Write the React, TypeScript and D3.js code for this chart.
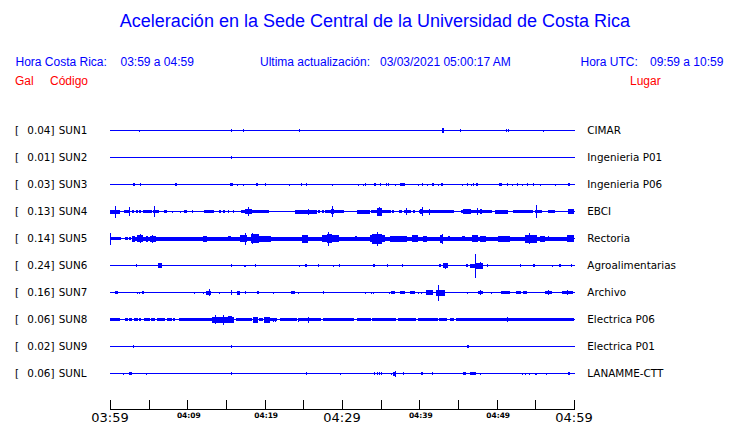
import React from "react";
import * as d3 from "d3";

// ---------- data ----------
const stations = ["SUN1", "SUN2", "SUN3", "SUN4", "SUN5", "SUN6", "SUN7", "SUN8", "SUN9", "SUNL"];
const peakGal = ["0.04", "0.01", "0.03", "0.13", "0.14", "0.24", "0.16", "0.06", "0.02", "0.06"];
const places = ["CIMAR", "Ingenieria P01", "Ingenieria P06", "EBCI", "Rectoria", "Agroalimentarias", "Archivo", "Electrica P06", "Electrica P01", "LANAMME-CTT"];

const tickMinutes = [0, 5, 10, 15, 20, 25, 30, 35, 40, 45, 50, 55, 60];
const labelMinutes = [0, 10, 20, 30, 40, 50, 60];
const tickLabels = ["03:59", "04:09", "04:19", "04:29", "04:39", "04:49", "04:59"];
const majorLabels = ["03:59", "04:29", "04:59"];

// bursts per station: [start minute, end minute, relative amplitude]
const SUN1 = [[3.8, 3.8, 1], [15.7, 15.7, 1.5], [17.2, 17.2, 1.5], [24.4, 24.4, 1.5], [42.95, 43.25, 2.5], [45.2, 45.2, 1.5], [51.2, 51.2, 1.5], [51.5, 51.5, 1.5], [56.0, 56.0, 1]];
const SUN2 = [[15.7, 15.7, 1.5]];
const SUN3 = [[3.0, 3.2, 1.3], [3.92, 3.92, 1.2], [8.4, 8.6, 1.3], [10.65, 10.65, 0.8], [15.5, 15.85, 1.3], [16.38, 16.38, 1], [17.24, 17.24, 1], [18.9, 19.2, 1.3], [20.1, 20.25, 1.3], [23.19, 23.19, 1], [24.7, 24.85, 1.2], [25.4, 25.55, 1.3], [28.66, 28.66, 1], [30.3, 30.3, 0.8], [32.1, 32.1, 1], [32.67, 32.67, 1], [33.0, 33.15, 1.2], [34.2, 34.5, 1.3], [34.9, 35.05, 1.3], [35.65, 35.8, 1.3], [36.0, 36.0, 1.2], [36.9, 36.9, 1], [37.55, 38.15, 1.3], [39.8, 39.8, 1], [40.3, 40.45, 1.2], [41.03, 41.03, 1], [41.6, 41.8, 1.2], [42.45, 42.45, 1], [42.8, 43.1, 1.3], [45.47, 45.47, 1], [46.2, 46.3, 1.2], [46.64, 46.64, 1], [46.9, 47.05, 1.2], [47.35, 47.65, 1.3], [50.35, 50.7, 1.3], [51.3, 51.45, 1.3], [51.94, 51.94, 1], [52.6, 52.75, 1.2], [53.32, 53.32, 1], [53.95, 54.1, 1.2], [54.75, 54.9, 1.2], [55.6, 55.6, 1], [57.55, 57.55, 1], [59.25, 59.55, 1.3]];
const SUN4 = [[0, 1.3, 2], [0.65, 0.65, 6], [1.8, 2.6, 1.8], [2.4, 2.4, 4.5], [2.8, 3.0, 1.2], [3.3, 3.5, 1.2], [3.8, 4.1, 1.2], [4.3, 5.4, 1.8], [5.5, 6.3, 1.7], [5.73, 5.73, 5.5], [7.0, 7.4, 1.5], [8.0, 8.0, 1], [9.0, 9.0, 1], [9.6, 10.05, 1.5], [10.6, 10.6, 1.2], [12.2, 13.5, 1.5], [14.1, 14.4, 1.2], [14.6, 14.9, 1.2], [15.2, 15.2, 1.2], [15.9, 15.9, 1.2], [16.9, 17.4, 1.3], [17.45, 18.3, 2.5], [17.8, 17.8, 4.5], [18.3, 20.5, 1.8], [23.9, 26.7, 2], [25.6, 25.6, 3], [26.9, 27.1, 1.2], [27.4, 27.6, 1.2], [27.8, 30.2, 1.7], [28.6, 29.0, 2.5], [28.66, 28.66, 5.5], [31.9, 33.6, 2], [33.8, 36.4, 1.6], [34.5, 35.1, 4], [34.8, 34.8, 4.5], [36.5, 36.8, 1.4], [37.4, 37.8, 1.2], [38.05, 38.9, 1.6], [38.3, 38.3, 3.5], [39.2, 39.5, 1.2], [39.9, 44.4, 1.8], [40.3, 40.3, 4.5], [40.1, 40.5, 2.5], [41.3, 41.3, 3], [45.4, 49.4, 1.7], [45.6, 46.6, 2.2], [47.9, 48.2, 2.5], [47.5, 47.5, 3.5], [49.8, 51.5, 2], [52.15, 54.75, 1.6], [55.0, 55.9, 1.8], [55.1, 55.1, 6.3], [56.6, 57.5, 1.2], [59.2, 60, 2.5]];
const SUN5 = [[0, 0.15, 6], [0, 1.45, 1.9], [1.9, 2.3, 1.2], [2.5, 2.8, 1.2], [2.8, 60, 2], [2.9, 3.3, 3], [3.55, 4.3, 3.5], [3.9, 3.9, 4.5], [4.7, 5.0, 3], [5.2, 6.0, 3], [5.4, 5.4, 4], [12.0, 12.5, 3], [15.3, 15.7, 2.5], [16.8, 17.7, 3.5], [17.4, 17.4, 6], [18.2, 19.2, 4.5], [18.4, 18.4, 5.5], [19.2, 20.9, 3], [24.8, 25.6, 4], [27.4, 29.6, 3.5], [28.0, 28.6, 4.5], [28.2, 28.2, 7], [31.7, 31.9, 2.5], [33.6, 35.6, 3.5], [33.9, 35.2, 5], [34.5, 34.5, 7], [36.2, 38.4, 3], [39.0, 39.8, 3.5], [40.5, 41.0, 3], [42.7, 43.1, 4], [42.9, 42.9, 5], [43.7, 44.0, 2.5], [45.5, 45.9, 2.5], [46.8, 47.6, 3.5], [47.8, 48.6, 3], [50.2, 51.7, 3], [53.7, 55.2, 4], [54.2, 54.2, 5.5], [55.6, 56.2, 3], [56.7, 56.7, 2.5], [59.1, 60, 3.5]];
const SUN6 = [[3.3, 3.3, 1.2], [6.25, 6.75, 2.5], [15.7, 15.7, 1.5], [17.3, 17.3, 1], [17.5, 17.5, 1], [18.7, 18.7, 1.2], [24.4, 24.4, 1], [25.2, 25.4, 1.5], [26.9, 26.9, 1.3], [28.8, 28.8, 1], [29.6, 29.6, 1.2], [34.0, 34.2, 1.3], [35.8, 35.8, 1.2], [37.7, 37.7, 1.2], [42.6, 42.8, 1.5], [43.0, 43.6, 2.5], [43.3, 43.3, 3], [46.0, 46.2, 1.3], [46.5, 47.2, 2], [47.25, 47.25, 12], [47.3, 48.2, 3], [47.9, 47.9, 3.5], [48.7, 48.7, 1.2], [53.0, 53.0, 1.2], [54.7, 54.9, 1.3], [57.1, 57.1, 1], [58.1, 58.3, 1.5], [59.55, 59.7, 1.3]];
const SUN7 = [[0.7, 1.1, 1.3], [3.5, 3.5, 1], [3.75, 3.75, 1], [4.2, 4.5, 1.3], [10.9, 10.9, 1], [12.0, 12.0, 1], [12.4, 13.1, 2], [12.75, 12.75, 3.5], [14.1, 14.1, 1], [15.7, 15.7, 2.5], [16.45, 16.9, 2], [17.5, 17.5, 1.3], [19.0, 19.2, 1.3], [21.1, 21.1, 1], [23.4, 23.9, 1.3], [24.3, 24.3, 1], [27.6, 27.6, 1.5], [33.0, 33.0, 1], [33.7, 33.7, 1], [34.0, 34.0, 1], [36.1, 36.1, 1], [36.4, 36.9, 1.3], [37.5, 38.2, 1.5], [38.8, 39.4, 1.5], [39.8, 39.8, 1], [40.2, 40.2, 1], [40.9, 41.8, 2.5], [42.2, 43.3, 3], [42.45, 42.45, 8], [46.2, 46.2, 1], [47.6, 48.3, 1.5], [47.8, 47.8, 2.5], [49.3, 49.3, 1], [50.6, 51.7, 1.3], [52.5, 53.1, 1.5], [53.4, 53.9, 1.3], [56.2, 57.1, 1.5], [56.7, 56.7, 2.5], [58.4, 59.8, 1.5], [59.1, 59.1, 2.5]];
const SUN8 = [[0, 1.29, 1.7], [1.94, 2.28, 1.7], [2.46, 2.8, 1.7], [3.06, 3.58, 1.7], [3.79, 4.1, 1.7], [4.44, 5.17, 1.7], [5.3, 5.82, 1.7], [6.03, 7.11, 1.7], [7.33, 7.97, 1.7], [8.19, 8.49, 1.7], [8.92, 12.28, 1.7], [12.28, 13.15, 1.7], [13.15, 15.95, 3], [13.58, 13.58, 4.5], [14.66, 14.66, 5], [15.3, 15.8, 3.5], [16.25, 18.32, 1.7], [18.5, 19.18, 3], [19.27, 19.83, 1.7], [19.96, 20.7, 3], [20.7, 21.55, 1.7], [21.1, 21.1, 2], [21.3, 21.3, 2], [21.98, 24.14, 1.7], [24.35, 27.37, 1.7], [24.35, 24.35, 2], [25.6, 25.6, 3], [27.58, 31.6, 1.7], [31.9, 33.75, 1.7], [33.92, 37.07, 1.7], [37.29, 39.66, 1.7], [39.79, 42.37, 1.7], [42.59, 43.67, 1.7], [43.97, 44.53, 1.7], [44.7, 60, 1.7], [51.4, 51.4, 2.5]];
const SUN9 = [[3.0, 3.0, 1.3], [15.7, 15.7, 1.3], [46.1, 46.3, 1.3]];
const SUNL = [[1.7, 1.7, 1], [2.45, 2.8, 1.5], [4.65, 4.65, 1], [15.7, 15.7, 1.5], [25.3, 25.3, 1.5], [29.7, 29.7, 1], [34.2, 34.2, 1.3], [34.5, 34.5, 1.3], [34.8, 34.8, 1.3], [35.0, 35.0, 1.3], [36.3, 36.3, 1], [36.6, 37.0, 2], [36.8, 36.8, 3], [37.9, 37.9, 1.3], [40.2, 40.45, 1.5], [41.7, 41.7, 1.5], [45.6, 46.0, 1.3], [46.5, 47.3, 1.5], [47.9, 47.9, 1], [53.3, 53.3, 1], [53.7, 53.7, 1], [54.2, 54.2, 1], [55.0, 55.2, 1], [56.4, 56.4, 1], [59.25, 59.45, 1.3]];

const traces = [SUN1, SUN2, SUN3, SUN4, SUN5, SUN6, SUN7, SUN8, SUN9, SUNL];

// ---------- layout ----------
const W = 740;
const H = 423;
const BLUE = "#0000ff";
const RED = "#ff0000";
const SANS = "'Liberation Sans', Arial, sans-serif";
const DEJAVU = "'DejaVu Sans', sans-serif";

export default function App() {
  const x = d3.scaleLinear().domain([0, 60]).range([110, 574]);
  const y = d3.scalePoint<string>().domain(stations).range([130, 373]);
  const amp = d3.scaleLinear().domain([0, 13.5]).range([0, 13.5]);
  const axisY = 409;

  return (
    <svg
      width={W}
      height={H}
      style={{ position: "absolute", left: 0, top: 0, background: "#fff" }}
    >
      <rect width={W} height={H} fill="#fff" />
      <text x={375} y={27} textAnchor="middle" fill={BLUE} fontFamily={SANS} fontSize={18}>
        Aceleración en la Sede Central de la Universidad de Costa Rica
      </text>

      <g fontFamily={SANS} fontSize={12} fill={BLUE}>
        <text x={15.5} y={65.5}>Hora Costa Rica:</text>
        <text x={120.5} y={65.5}>03:59 a 04:59</text>
        <text x={260} y={65.5}>Ultima actualización:</text>
        <text x={380} y={65.5}>03/03/2021 05:00:17 AM</text>
        <text x={580.5} y={65.5}>Hora UTC:</text>
        <text x={650} y={65.5}>09:59 a 10:59</text>
      </g>
      <g fontFamily={SANS} fontSize={12} fill={RED}>
        <text x={15} y={85}>Gal</text>
        <text x={50} y={85}>Código</text>
        <text x={630} y={85}>Lugar</text>
      </g>

      {stations.map((s, i) => {
        const cy = (y(s) as number) + 0.5;
        return (
          <g key={s}>
            <g fontFamily={DEJAVU} fontSize={10.4} fill="#000">
              <text x={15} y={cy + 3.8}>[</text>
              <text x={54.5} y={cy + 3.8} textAnchor="end">{peakGal[i]}]</text>
              <text x={58.7} y={cy + 3.8}>{s}</text>
              <text x={587.3} y={cy + 3.8}>{places[i]}</text>
            </g>
            <line x1={x(0)} x2={x(60) + 1} y1={cy} y2={cy} stroke={BLUE} strokeWidth={1} shapeRendering="crispEdges" />
            {traces[i].map((b, j) => {
              const x0 = x(b[0]);
              const w = Math.max(1, x(b[1]) - x0);
              const a = amp(b[2]);
              return (
                <rect
                  key={j}
                  x={Math.round(x0)}
                  y={cy - a}
                  width={Math.max(1, Math.round(w))}
                  height={2 * a}
                  fill={BLUE}
                  shapeRendering="crispEdges"
                />
              );
            })}
          </g>
        );
      })}

      <g stroke="#000" strokeWidth={1} shapeRendering="crispEdges">
        <line x1={x(0)} x2={x(60) + 1} y1={axisY + 0.5} y2={axisY + 0.5} />
        {tickMinutes.map((m) => (
          <line key={m} x1={Math.round(x(m)) + 0.5} x2={Math.round(x(m)) + 0.5} y1={axisY - 9} y2={axisY} />
        ))}
      </g>
      <g fill="#000" fontFamily={DEJAVU} textAnchor="middle">
        {labelMinutes.map((m, i) => {
          const major = majorLabels.includes(tickLabels[i]);
          return (
            <text
              key={m}
              x={x(m) + (major ? 0 : 1.5)}
              y={major ? 421.5 : 418.3}
              fontSize={major ? 13 : 7.5}
              fontWeight={major ? "normal" : "bold"}
            >
              {tickLabels[i]}
            </text>
          );
        })}
      </g>
    </svg>
  );
}
